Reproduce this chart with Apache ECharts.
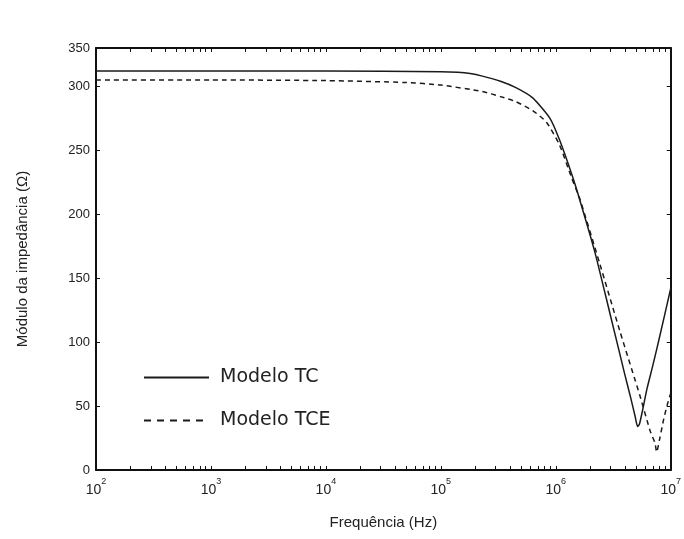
<!DOCTYPE html>
<html><head><meta charset="utf-8">
<script src="https://cdn.jsdelivr.net/npm/echarts@6/dist/echarts.min.js"></script>
<style>html,body{margin:0;padding:0;background:#fff}#c{width:684px;height:539px}</style>
</head><body><div id="c"></div>
<script>
// Frequency (Hz) and impedance magnitude (Ohm)
const freqTC = [1e2, 1e3, 1e4, 1e5, 1.4e5, 1.8e5, 2.3e5, 3.3e5, 4.5e5, 6.3e5, 8.9e5, 1.08e6, 1.38e6, 1.62e6, 2.18e6, 2.95e6, 3.98e6, 4.5e6, 4.9e6, 5.15e6, 5.35e6, 5.7e6, 6.2e6, 7.0e6, 8.0e6, 1e7];
const magTC  = [312, 312, 312, 311.5, 311, 310, 308, 304, 299, 291, 275, 258, 231, 211, 171, 123, 75, 56, 42, 34, 36, 47, 63, 82, 104, 142];
const freqTCE = [1e2, 1e3, 1e4, 5e4, 1e5, 2.3e5, 3.3e5, 4.5e5, 6.3e5, 8.3e5, 1.08e6, 1.38e6, 1.62e6, 2.42e6, 3.6e6, 5.4e6, 6.6e6, 7.3e6, 7.55e6, 8.0e6, 8.7e6, 9.4e6, 1e7];
const magTCE  = [305, 305, 304.5, 303, 301, 296, 292, 288, 281, 272, 254, 228, 212, 161, 109, 58, 31, 21, 14, 24, 40, 52, 60];
const seriesNames = ['Modelo TC', 'Modelo TCE'];
const xTickExponents = [2, 3, 4, 5, 6, 7];
const yTickValues = [0, 50, 100, 150, 200, 250, 300];
const yTopLabel = '350';
const xName = 'Frequência (Hz)';
const yName = 'Módulo da impedância (Ω)';

const X_MIN = 100, X_MAX = 1e7, Y_MAX = 330;
const minorTicks = [];
for (let e = xTickExponents[0]; e < xTickExponents[xTickExponents.length - 1]; e++) {
  for (let k = 1; k <= 9; k++) minorTicks.push(k * Math.pow(10, e));
}
minorTicks.push(X_MAX);
const majorVals = xTickExponents.map(e => Math.pow(10, e));

const black = '#111';
const tickStyle = { show: true, inside: true, length: 4, lineStyle: { color: black, width: 1 } };

function xAx(pos, labels) {
  return {
    type: 'log', logBase: 10, min: X_MIN, max: X_MAX, position: pos,
    axisLine: { show: true, onZero: false, lineStyle: { color: black, width: 2 } },
    axisTick: Object.assign({ customValues: minorTicks }, tickStyle),
    axisLabel: labels ? {
      show: true, margin: 7, customValues: majorVals,
      formatter: v => '{b|10}{s|' + Math.round(Math.log10(v)) + '}',
      rich: {
        b: { fontFamily: 'Liberation Sans', fontSize: 14, color: '#222', padding: [6, 0, 0, 0] },
        s: { fontFamily: 'Liberation Sans', fontSize: 9, color: '#222', verticalAlign: 'top', padding: [0, 0, 8, 0] }
      }
    } : { show: false },
    splitLine: { show: false },
    name: labels ? xName : '', nameLocation: 'middle', nameGap: 45,
    nameTextStyle: { fontFamily: 'Liberation Sans', fontSize: 15, color: '#222' }
  };
}
function yAx(pos, labels) {
  return {
    type: 'value', min: 0, max: Y_MAX, interval: 50, position: pos,
    axisLine: { show: true, onZero: false, lineStyle: { color: black, width: 2 } },
    axisTick: tickStyle,
    axisLabel: labels ? {
      show: true, margin: 6, fontFamily: 'Liberation Sans', fontSize: 13, color: '#222',
      showMaxLabel: true,
      formatter: v => (v === Y_MAX ? yTopLabel : (yTickValues.indexOf(v) >= 0 ? String(v) : ''))
    } : { show: false },
    splitLine: { show: false },
    name: labels ? yName : '', nameLocation: 'middle', nameGap: 66,
    nameTextStyle: { fontFamily: 'Liberation Sans', fontSize: 15, color: '#222' }
  };
}

const chart = echarts.init(document.getElementById('c'), null, { renderer: 'canvas' });
chart.setOption({
  animation: false,
  backgroundColor: '#fff',
  grid: { left: 96, right: 13, top: 48, bottom: 69, containLabel: false },
  xAxis: [xAx('bottom', true), xAx('top', false)],
  yAxis: [yAx('left', true), yAx('right', false)],
  legend: {
    data: [
      { name: seriesNames[0] },
      { name: seriesNames[1], lineStyle: { type: [7, 6] } }
    ],
    orient: 'vertical', left: 143, top: 368, padding: 0,
    itemWidth: 65, itemHeight: 18, itemGap: 24,
    itemStyle: { opacity: 0 },
    textStyle: { fontFamily: 'DejaVu Sans', fontSize: 19, color: '#222', padding: [0, 0, 0, 6] }
  },
  series: [
    {
      name: seriesNames[0], type: 'line', xAxisIndex: 0, yAxisIndex: 0, symbol: 'none', smooth: 0.2,
      data: freqTC.map((f, i) => [f, magTC[i]]),
      lineStyle: { color: '#1a1a1a', width: 1.5, type: 'solid' }, itemStyle: { color: '#1a1a1a' }
    },
    {
      name: seriesNames[1], type: 'line', xAxisIndex: 0, yAxisIndex: 0, symbol: 'none', smooth: 0.2,
      data: freqTCE.map((f, i) => [f, magTCE[i]]),
      lineStyle: { color: '#1a1a1a', width: 1.5, type: [5, 4] }, itemStyle: { color: '#1a1a1a' }
    }
  ]
});
</script></body></html>
